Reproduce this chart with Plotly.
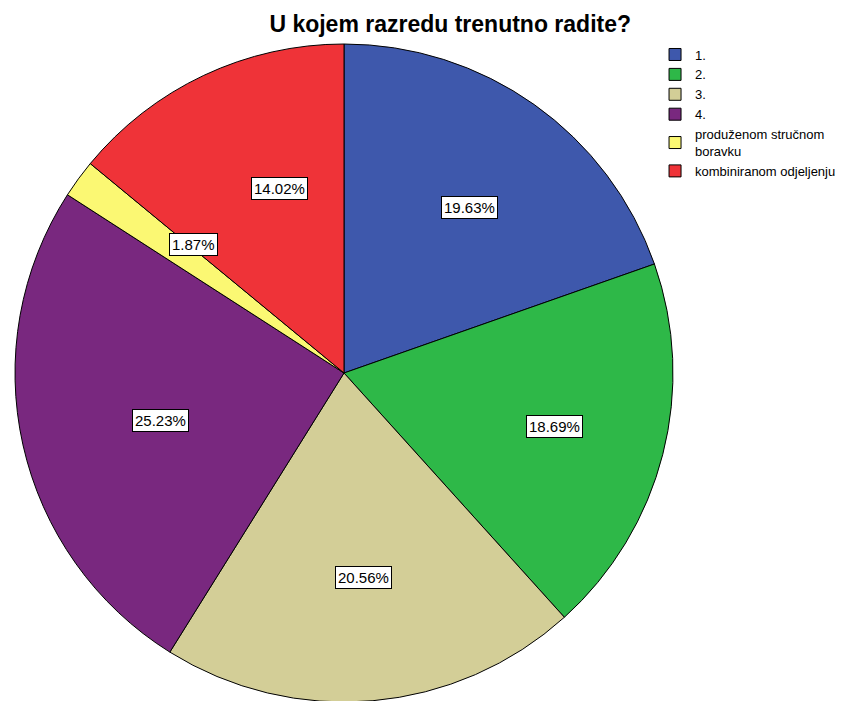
import math
import plotly.graph_objects as go

# categories and counts (N = 107)
labels = ['1.', '2.', '3.', '4.', 'produženom stručnom<br>boravku', 'kombiniranom odjeljenju']
counts = [21, 20, 22, 27, 2, 15]
colors = ['#3E58AC', '#2EB848', '#D3CE97', '#79287F', '#FBF873', '#EF3338']

W, H = 857, 701
# pie placement in pixels (page body adds ~8px offset)
pie_left, pie_right = 6, 666
pie_top, pie_bottom = 36, 694

total = sum(counts)
pcts = [c / total * 100 for c in counts]

fig = go.Figure()
fig.add_trace(go.Pie(
    labels=labels, values=counts, sort=False, direction='clockwise', rotation=0,
    marker=dict(colors=colors, line=dict(color='black', width=1)),
    textinfo='none', hoverinfo='label+percent',
    domain=dict(x=[pie_left / W, pie_right / W], y=[1 - pie_bottom / H, 1 - pie_top / H]),
))

# percentage labels in white boxes, placed on each slice's mid-angle
cx = (pie_left + pie_right) / 2
cy = (pie_top + pie_bottom) / 2
r = min(pie_right - pie_left, pie_bottom - pie_top) / 2
cum = 0
for p in pcts:
    mid = (cum + p / 2) / 100 * 2 * math.pi
    cum += p
    px = cx + 0.66 * r * math.sin(mid)
    py = cy - 0.66 * r * math.cos(mid)
    fig.add_annotation(
        x=px / W, y=1 - py / H, xref='paper', yref='paper',
        text=f'{p:.2f}%', showarrow=False,
        font=dict(family='Liberation Sans, Arial', size=15, color='black'),
        bgcolor='white', bordercolor='black', borderwidth=1, borderpad=2,
    )

fig.update_layout(
    width=W, height=H,
    margin=dict(l=0, r=0, t=0, b=0),
    paper_bgcolor='white', plot_bgcolor='white',
    title=dict(text='<b>U kojem razredu trenutno radite?</b>', x=0.516, xanchor='center',
               y=1 - 16 / H, yanchor='middle',
               font=dict(family='Liberation Sans, Arial', size=23, color='black')),
    legend=dict(x=0.755, y=0.955, xanchor='left', yanchor='top',
                font=dict(family='Liberation Sans, Arial', size=13, color='black'),
                tracegroupgap=0, itemwidth=30),
    showlegend=True,
)

fig.write_html("out.html")
